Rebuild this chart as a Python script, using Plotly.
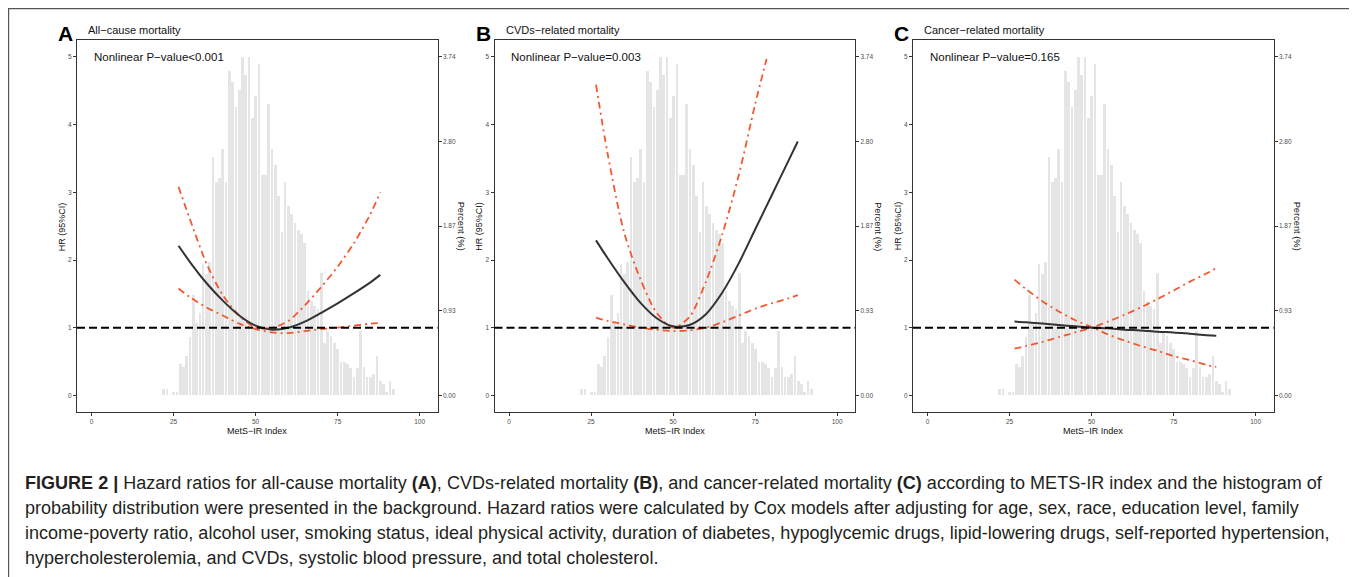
import plotly.graph_objects as go

# page offset: the browser places the figure 8px from the top-left corner
OFF = 8
W, H = 1357 - OFF, 577 - OFF

# ---------------- data ----------------
hist_x = list(range(22, 93))
hist_pct = [0.07, 0.07, 0.00, 0.04, 0.04, 0.35, 0.31, 0.43, 0.64, 1.11,
            0.80, 0.91, 1.45, 1.34, 1.47, 2.63, 2.36, 2.40, 2.72, 2.36,
            3.58, 3.46, 3.19, 3.38, 3.74, 3.54, 3.74, 3.07, 3.31, 3.66,
            2.44, 2.44, 3.22, 2.72, 2.55, 2.20, 1.81, 2.36, 2.09, 2.00,
            1.91, 1.83, 1.78, 1.68, 1.15, 1.04, 0.99, 0.96, 1.35, 0.58,
            0.71, 0.66, 0.58, 0.51, 0.37, 0.37, 0.35, 0.30, 0.20, 0.30,
            0.71, 0.31, 0.20, 0.20, 0.24, 0.43, 0.16, 0.13, 0.04, 0.16, 0.07]

grid_x = [26.5, 30, 35, 40, 45, 50, 55, 60, 65, 70, 75, 80, 85, 88]

A_hr = [2.21, 1.97, 1.66, 1.40, 1.18, 1.03, 0.97, 1.00, 1.09, 1.22, 1.36, 1.51, 1.67, 1.78]
A_hi = [3.08, 2.60, 1.95, 1.48, 1.18, 1.00, 1.00, 1.10, 1.33, 1.60, 1.90, 2.25, 2.68, 3.00]
A_lo = [1.58, 1.45, 1.30, 1.18, 1.06, 0.98, 0.93, 0.92, 0.95, 0.98, 1.00, 1.03, 1.06, 1.07]

B_hr = [2.29, 2.03, 1.68, 1.37, 1.14, 1.02, 1.04, 1.20, 1.52, 1.95, 2.45, 2.95, 3.45, 3.75]
B_hi_x = [26.5, 30, 35, 40, 45, 50, 55, 60, 65, 70, 75, 78.5]
B_hi = [4.59, 3.58, 2.42, 1.72, 1.22, 1.00, 1.16, 1.68, 2.38, 3.25, 4.30, 4.97]
B_lo = [1.15, 1.10, 1.05, 1.00, 0.97, 0.95, 0.96, 1.00, 1.08, 1.18, 1.28, 1.36, 1.43, 1.48]

C_hr = [1.09, 1.08, 1.06, 1.04, 1.02, 1.00, 0.99, 0.97, 0.96, 0.94, 0.93, 0.91, 0.89, 0.88]
C_ci1 = [1.71, 1.57, 1.39, 1.24, 1.11, 1.01, 0.90, 0.81, 0.73, 0.66, 0.58, 0.52, 0.45, 0.42]
C_ci2 = [0.69, 0.73, 0.79, 0.86, 0.93, 1.00, 1.09, 1.19, 1.30, 1.42, 1.55, 1.68, 1.80, 1.88]

letters = ["A", "B", "C"]
titles = ["All−cause mortality", "CVDs−related mortality", "Cancer−related mortality"]
pvals = ["Nonlinear P−value<0.001", "Nonlinear P−value=0.003", "Nonlinear P−value=0.165"]
hr_ticks = [0, 1, 2, 3, 4, 5]
pct_tickvals = [0, 0.935, 1.87, 2.805, 3.74]
pct_ticktext = ["0.00", "0.93", "1.87", "2.80", "3.74"]
x_ticks = [0, 25, 50, 75, 100]

panels = [
    dict(hr=(grid_x, A_hr), ci=[(grid_x, A_hi), (grid_x, A_lo)]),
    dict(hr=(grid_x, B_hr), ci=[(B_hi_x, B_hi), (grid_x, B_lo)]),
    dict(hr=(grid_x, C_hr), ci=[(grid_x, C_ci1), (grid_x, C_ci2)]),
]

# ---------------- layout geometry (page pixels) ----------------
plot_left = [77, 494.5, 913]
plot_w = 360.5
plot_top, plot_bot = 40, 412.3
HR_RANGE = [-0.25, 5.25]
PCT_RANGE = [HR_RANGE[0] * 3.74 / 5, HR_RANGE[1] * 3.74 / 5]
X_RANGE = [-4.45, 105.45]

FONT = "Liberation Sans, Arial, Helvetica, sans-serif"
ORANGE = "#F0592F"
AX = "#333333"
TICKC = "#4D4D4D"
TICKSIZE = 6.5


def fx(p):
    return (p - OFF) / W


def fy(p):
    return 1 - (p - OFF) / H


fig = go.Figure()
layout = dict(
    width=W, height=H, margin=dict(l=0, r=0, t=0, b=0),
    paper_bgcolor="white", plot_bgcolor="white", showlegend=False,
    font=dict(family=FONT, color="#222"),
    bargap=0,
)
annotations = []
shapes = []

for i in range(3):
    n = i + 1
    xa = "x" if n == 1 else f"x{n}"
    ya_pct = "y" if n == 1 else f"y{n}"
    ya_hr = f"y{n + 3}"
    L = plot_left[i]
    R = L + plot_w
    dom_x = [fx(L), fx(R)]
    dom_y = [fy(plot_bot), fy(plot_top)]

    layout[f"xaxis{'' if n == 1 else n}"] = dict(
        domain=dom_x, range=X_RANGE, anchor=ya_pct,
        tickvals=x_ticks, ticks="outside", ticklen=3, tickwidth=1, tickcolor=AX,
        showline=True, linecolor=AX, linewidth=1.2, mirror=True,
        showgrid=False, zeroline=False,
        tickfont=dict(size=TICKSIZE, color=TICKC, family=FONT),
    )
    layout[f"yaxis{'' if n == 1 else n}"] = dict(
        domain=dom_y, range=PCT_RANGE, anchor=xa, side="right",
        tickvals=pct_tickvals, ticktext=pct_ticktext,
        ticks="outside", ticklen=3, tickwidth=1, tickcolor=AX,
        showline=True, linecolor=AX, linewidth=1.2, mirror=True,
        showgrid=False, zeroline=False,
        tickfont=dict(size=TICKSIZE, color=TICKC, family=FONT),
    )
    layout[f"yaxis{n + 3}"] = dict(
        range=HR_RANGE, anchor=xa, overlaying=ya_pct, side="left",
        tickvals=hr_ticks, ticks="outside", ticklen=3, tickwidth=1, tickcolor=AX,
        showline=False, showgrid=False, zeroline=False,
        tickfont=dict(size=TICKSIZE, color=TICKC, family=FONT),
    )

    # histogram (background)
    fig.add_trace(go.Bar(x=hist_x, y=hist_pct, width=0.82,
                         marker=dict(color="#E5E5E5", line=dict(width=0)),
                         xaxis=xa, yaxis=ya_pct, hoverinfo="skip"))
    # CI curves
    for cx, cy in panels[i]["ci"]:
        fig.add_trace(go.Scatter(x=cx, y=cy, mode="lines", xaxis=xa, yaxis=ya_hr,
                                 line=dict(color=ORANGE, width=1.8, dash="7px,4px,2px,4px",
                                           shape="spline", smoothing=0.8)))
    # HR curve
    hx, hy = panels[i]["hr"]
    fig.add_trace(go.Scatter(x=hx, y=hy, mode="lines", xaxis=xa, yaxis=ya_hr,
                             line=dict(color="#333333", width=2, shape="spline", smoothing=0.8)))

    # reference line HR = 1
    shapes.append(dict(type="line", xref=f"{xa} domain", yref=ya_hr, x0=0, x1=1, y0=1, y1=1,
                       line=dict(color="black", width=2, dash="8px,4px"), layer="above"))

    # texts
    annotations.append(dict(text=f"<b>{letters[i]}</b>", xref="paper", yref="paper",
                            x=fx(L - 21), y=fy(33), xanchor="left", yanchor="middle",
                            showarrow=False, font=dict(size=21, color="black", family=FONT)))
    annotations.append(dict(text=titles[i], xref="paper", yref="paper",
                            x=fx(L + 9), y=fy(30), xanchor="left", yanchor="middle",
                            showarrow=False, font=dict(size=11, color="#111", family=FONT)))
    annotations.append(dict(text=pvals[i], xref=xa, yref=ya_hr, x=0, y=5,
                            xanchor="left", yanchor="middle", showarrow=False,
                            font=dict(size=11.5, color="#111", family=FONT)))
    annotations.append(dict(text="HR (95%CI)", xref="paper", yref="paper",
                            x=fx(L - 15), y=fy((plot_top + plot_bot) / 2), textangle=-90,
                            xanchor="center", yanchor="middle", showarrow=False,
                            font=dict(size=9, color="#111", family=FONT)))
    annotations.append(dict(text="Percent (%)", xref="paper", yref="paper",
                            x=fx(R + 23), y=fy((plot_top + plot_bot) / 2), textangle=90,
                            xanchor="center", yanchor="middle", showarrow=False,
                            font=dict(size=9.3, color="#111", family=FONT)))
    annotations.append(dict(text="MetS−IR Index", xref="paper", yref="paper",
                            x=fx((L + R) / 2), y=fy(431), xanchor="center", yanchor="middle",
                            showarrow=False, font=dict(size=9, color="#111", family=FONT)))

# outer frame
shapes.append(dict(type="rect", xref="paper", yref="paper",
                   x0=fx(8.6), x1=fx(1354.5), y0=fy(620), y1=fy(8.6),
                   line=dict(color="#555", width=1.2), fillcolor="rgba(0,0,0,0)", layer="below"))

caption = [
    "<b>FIGURE 2 |</b> Hazard ratios for all-cause mortality <b>(A)</b>, CVDs-related mortality "
    "<b>(B)</b>, and cancer-related mortality <b>(C)</b> according to METS-IR index and the histogram of",
    "probability distribution were presented in the background. Hazard ratios were calculated by Cox "
    "models after adjusting for age, sex, race, education level, family",
    "income-poverty ratio, alcohol user, smoking status, ideal physical activity, duration of diabetes, "
    "hypoglycemic drugs, lipid-lowering drugs, self-reported hypertension,",
    "hypercholesterolemia, and CVDs, systolic blood pressure, and total cholesterol.",
]
cap_y = [483, 508, 533, 558]
for t, yy in zip(caption, cap_y):
    annotations.append(dict(text=t, xref="paper", yref="paper", x=fx(23), y=fy(yy),
                            xanchor="left", yanchor="middle", showarrow=False,
                            font=dict(size=18.05, color="#231F20", family=FONT)))

layout["annotations"] = annotations
layout["shapes"] = shapes
fig.update_layout(**layout)
fig.write_html("out.html")
